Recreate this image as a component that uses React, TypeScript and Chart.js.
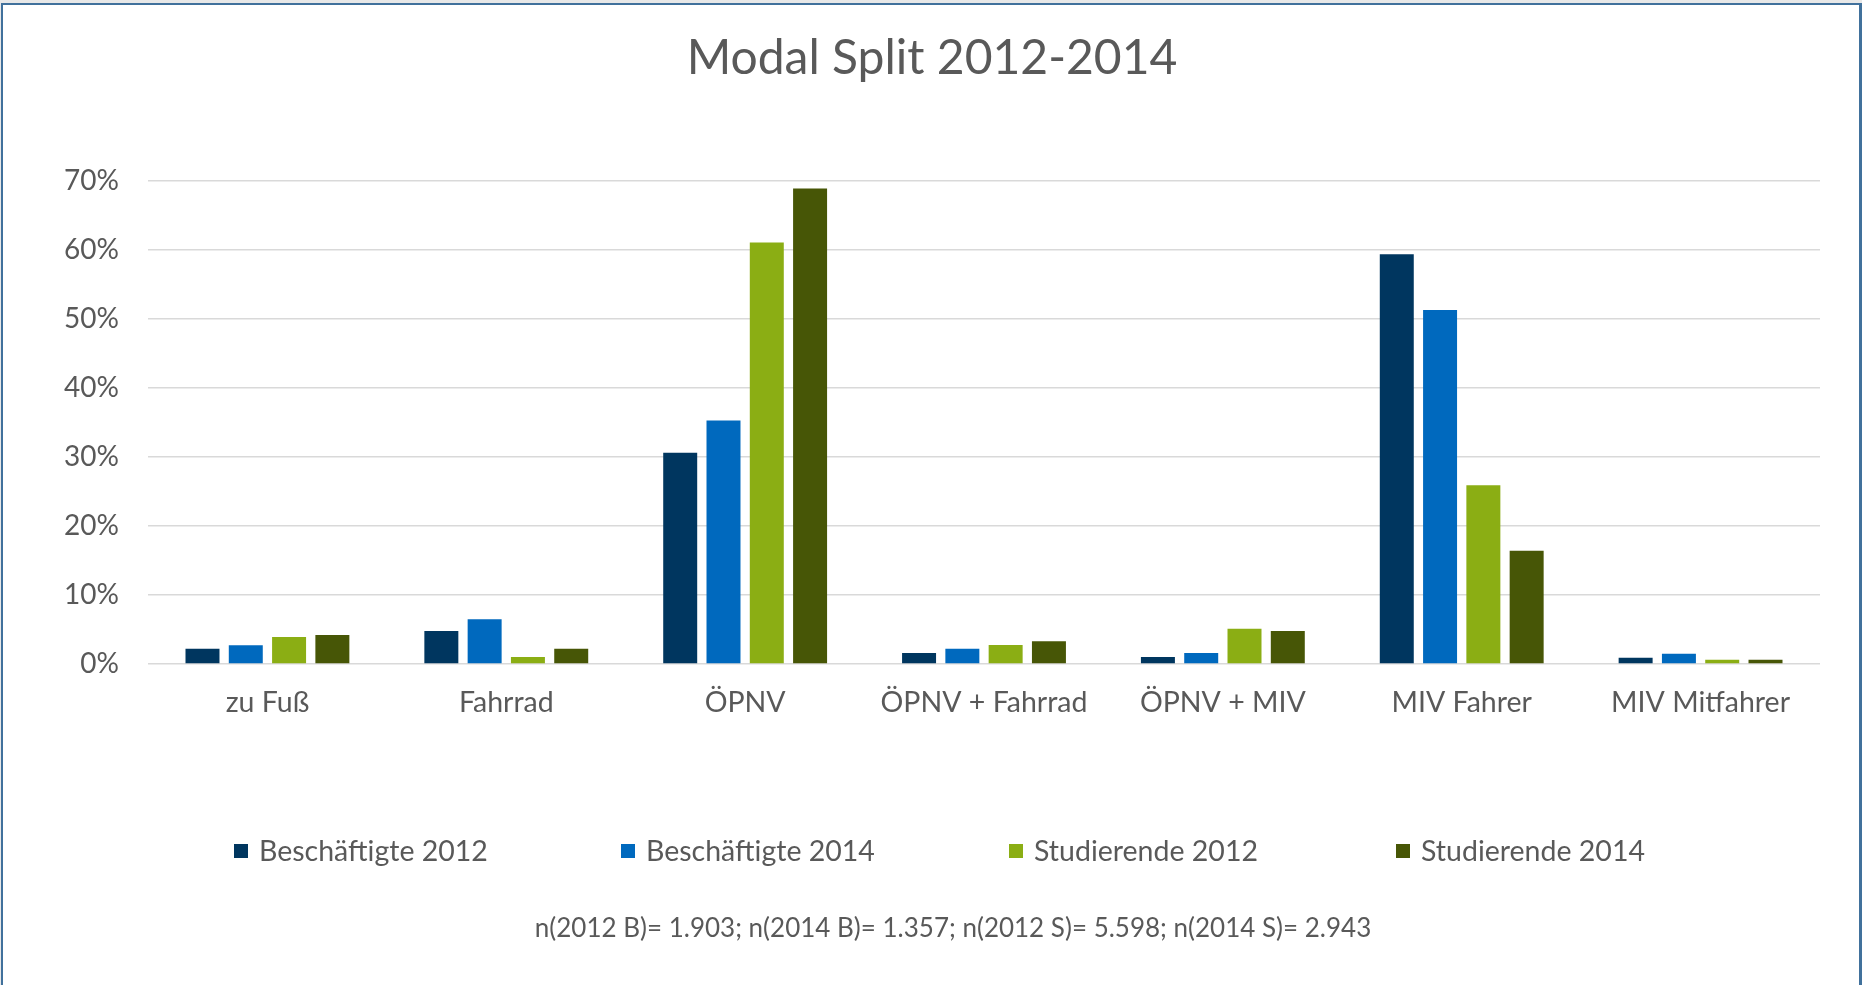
import React, { useEffect, useRef } from "react";
import { Chart, registerables } from "chart.js";

Chart.register(...registerables);

const titleText = "Modal Split 2012-2014";
const categories = ["zu Fuß", "Fahrrad", "ÖPNV", "ÖPNV + Fahrrad", "ÖPNV + MIV", "MIV Fahrer", "MIV Mitfahrer"];
const seriesNames = ["Beschäftigte 2012", "Beschäftigte 2014", "Studierende 2012", "Studierende 2014"];
const beschaeftigte2012 = [2.2, 4.8, 30.6, 1.6, 1.0, 59.4, 0.9];
const beschaeftigte2014 = [2.7, 6.5, 35.3, 2.2, 1.6, 51.3, 1.5];
const studierende2012 = [3.9, 1.0, 61.1, 2.75, 5.1, 25.9, 0.6];
const studierende2014 = [4.2, 2.2, 68.9, 3.3, 4.8, 16.4, 0.6];
const yTickLabels = ["0%", "10%", "20%", "30%", "40%", "50%", "60%", "70%"];
const footnote = "n(2012 B)= 1.903; n(2014 B)= 1.357; n(2012 S)= 5.598; n(2014 S)= 2.943";
const colors = ["#00365F", "#0069BE", "#8BAE14", "#475606"];

const FONT = "Lato, 'Noto Sans', sans-serif";
const TEXT = "#595959";

const overlayPlugin = {
  id: "overlay",
  afterDraw(chart: any) {
    const ctx = chart.ctx;
    ctx.save();
    // title
    ctx.fillStyle = TEXT;
    ctx.font = `48px ${FONT}`;
    ctx.textAlign = "center";
    ctx.textBaseline = "alphabetic";
    ctx.fillText(titleText, 932, 74);
    // legend
    ctx.font = `28.5px ${FONT}`;
    ctx.textAlign = "left";
    ctx.textBaseline = "middle";
    const starts = [234, 621, 1009, 1396];
    seriesNames.forEach((name, i) => {
      ctx.fillStyle = colors[i];
      ctx.fillRect(starts[i], 844, 14, 14);
      ctx.fillStyle = TEXT;
      ctx.fillText(name, starts[i] + 25, 852);
    });
    // footnote
    ctx.font = `26px ${FONT}`;
    ctx.textAlign = "center";
    ctx.fillText(footnote, 953, 929);
    ctx.restore();
  },
};

export default function App() {
  const ref = useRef<HTMLCanvasElement>(null);
  useEffect(() => {
    document.body.style.margin = "0";
    const chart = new Chart(ref.current!, {
      type: "bar",
      data: {
        labels: categories,
        datasets: [beschaeftigte2012, beschaeftigte2014, studierende2012, studierende2014].map((d, i) => ({
          label: seriesNames[i],
          data: d,
          backgroundColor: colors[i],
          borderWidth: 0,
          categoryPercentage: 0.725,
          barPercentage: 0.785,
        })),
      },
      options: {
        animation: false,
        responsive: false,
        maintainAspectRatio: false,
        layout: { padding: { top: 181, left: 0, right: 42, bottom: 261 } },
        plugins: {
          legend: { display: false },
          title: { display: false },
          tooltip: { enabled: false },
        },
        scales: {
          x: {
            grid: { display: false, drawTicks: false },
            border: { display: false },
            ticks: { color: TEXT, font: { family: FONT, size: 28.5 }, padding: 22, maxRotation: 0, autoSkip: false },
            afterFit: (s: any) => { s.height = 60; },
          },
          y: {
            min: 0,
            max: 70,
            grid: { color: "#d9d9d9", lineWidth: 1.5, drawTicks: false },
            border: { display: false },
            ticks: {
              stepSize: 10,
              color: TEXT,
              font: { family: FONT, size: 28 },
              padding: 29,
              callback: (_v: any, i: number) => yTickLabels[i],
            },
            afterFit: (s: any) => { s.width = 148; },
          },
        },
      },
      plugins: [overlayPlugin],
    });
    return () => chart.destroy();
  }, []);
  return (
    <div style={{ position: "fixed", left: 0, top: 0, width: 1862, height: 985, background: "#e8e8e8", overflow: "hidden" }}>
      <div style={{ position: "absolute", left: 1, top: 3, width: 1856, height: 1000, background: "#fff", borderTop: "2px solid #41719C", borderLeft: "2px solid #41719C", borderRight: "3px solid #41719C" }} />
      <canvas ref={ref} width={1862} height={985} style={{ position: "absolute", left: 0, top: 0, width: 1862, height: 985 }} />
    </div>
  );
}
